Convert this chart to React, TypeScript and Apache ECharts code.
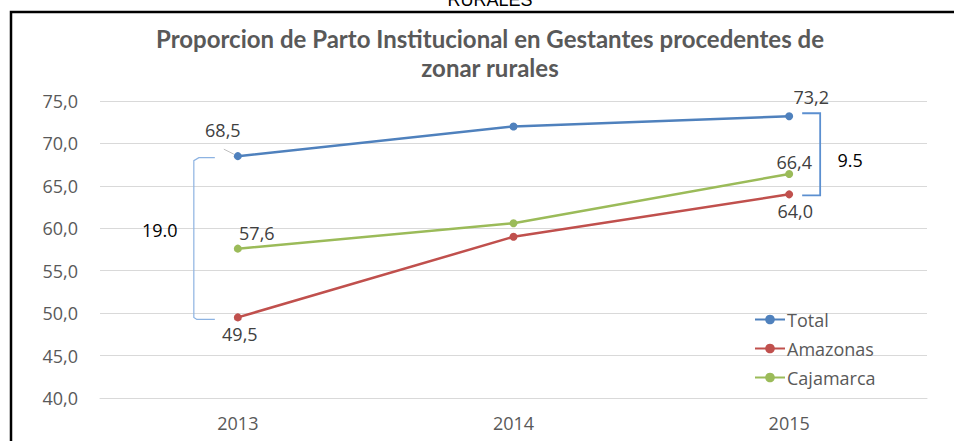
import React, { useEffect, useRef } from "react";
import * as echarts from "echarts";

const categories = ["2013", "2014", "2015"];
const seriesNames = ["Total", "Amazonas", "Cajamarca"];
const totalValues = [68.5, 72.0, 73.2];
const amazonasValues = [49.5, 59.0, 64.0];
const cajamarcaValues = [57.6, 60.6, 66.4];
const labelledIndices = [0, 2];
const yMin = 40;
const yMax = 75;
const yInterval = 5;
const gapLabels = ["19.0", "9.5"];
const titleLines = ["Proporcion de Parto Institucional en Gestantes procedentes de", "zonar rurales"];
const topCutText = "RURALES";

const colors = ["#4f81bd", "#c0504d", "#9bbb59"];
const numFont = "Open Sans";

// label placement per series [index0, index2]
const labelPlacement: any[] = [
  [{ position: "top", offset: [-15, -8] }, null, { position: "top", offset: [22, -1] }],
  [{ position: "bottom", offset: [2, -1] }, null, { position: "bottom", offset: [6, -1] }],
  [{ position: "top", offset: [19, 2] }, null, { position: "top", offset: [5, 6] }],
];

const fmt = (v: number) => v.toFixed(1).replace(".", ",");

export default function App() {
  const ref = useRef<HTMLDivElement>(null);
  useEffect(() => {
    if (!ref.current) return;
    const chart = echarts.init(ref.current, null, { renderer: "svg" });
    const allValues = [totalValues, amazonasValues, cajamarcaValues];
    const series = allValues.map((vals, s) => ({
      name: seriesNames[s],
      type: "line",
      data: vals.map((v, i) => {
        const show = labelledIndices.includes(i);
        const p = labelPlacement[s][i] || {};
        return {
          value: v,
          label: {
            show,
            position: p.position || "top",
            offset: p.offset || [0, 0],
            formatter: (d: any) => fmt(d.value),
            color: "#404040",
            fontSize: 18,
            fontFamily: numFont,
          },
        };
      }),
      symbol: "circle",
      symbolSize: 8,
      lineStyle: { width: 2.5, color: colors[s] },
      itemStyle: { color: colors[s] },
      z: 3 - s,
    }));
    chart.setOption({
      animation: false,
      backgroundColor: "#ffffff",
      grid: { left: 100, right: 27, top: 101, bottom: 43, containLabel: false },
      legend: {
        orient: "vertical",
        left: 749,
        top: 304,
        itemWidth: 30,
        itemHeight: 12,
        itemGap: 8,
        data: seriesNames,
        textStyle: { color: "#595959", fontSize: 18, fontFamily: numFont, lineHeight: 21, padding: [0, 0, 0, -3] },
      },
      xAxis: {
        type: "category",
        data: categories,
        boundaryGap: true,
        axisLine: { show: true, lineStyle: { color: "#d9d9d9", width: 1 } },
        axisTick: { show: false },
        axisLabel: { color: "#595959", fontSize: 18, fontFamily: numFont, margin: 16 },
      },
      yAxis: {
        type: "value",
        min: yMin,
        max: yMax,
        interval: yInterval,
        axisLine: { show: false },
        axisTick: { show: false },
        splitLine: { lineStyle: { color: "#d9d9d9", width: 1 } },
        axisLabel: {
          color: "#595959",
          fontSize: 18,
          fontFamily: numFont,
          margin: 22,
          formatter: (v: number) => fmt(v),
        },
      },
      series,
    });

    const px = (s: number, i: number, v: number) =>
      chart.convertToPixel({ seriesIndex: s }, [i, v]) as number[];

    const tTop = px(0, 0, totalValues[0]);
    const aBot = px(1, 0, amazonasValues[0]);
    const tTop2 = px(0, 2, totalValues[2]);
    const aBot2 = px(1, 2, amazonasValues[2]);

    const lx = tTop[0] - 44;
    const ly1 = tTop[1] + 1.5;
    const ly2 = aBot[1] + 2;
    const rx = tTop2[0] + 31;
    const ry1 = tTop2[1] - 3;
    const ry2 = aBot2[1] + 1;

    chart.setOption({
      graphic: [
        {
          type: "polyline",
          shape: { points: [[11, 460], [11, 12], [970, 12]] },
          style: { stroke: "#000", lineWidth: 2.5, fill: null },
          silent: true,
        },
        {
          type: "text",
          style: {
            text: topCutText,
            x: 490,
            y: 9,
            align: "center",
            verticalAlign: "bottom",
            font: "18px 'Liberation Sans'",
            fill: "#000",
          },
        },
        {
          type: "text",
          style: {
            text: titleLines[0],
            x: 490,
            y: 38,
            align: "center",
            verticalAlign: "middle",
            font: "bold 24px Lato",
            fill: "#595959",
          },
        },
        {
          type: "text",
          style: {
            text: titleLines[1],
            x: 490,
            y: 67,
            align: "center",
            verticalAlign: "middle",
            font: "bold 24px Lato",
            fill: "#595959",
          },
        },
        {
          type: "polyline",
          shape: {
            points: [
              [lx + 21, ly1],
              [lx + 5, ly1],
              [lx, ly1 + 3],
              [lx, ly2 - 2],
              [lx + 3, ly2],
              [lx + 21, ly2],
            ],
          },
          style: { stroke: "#8db3e2", lineWidth: 1.2, fill: null },
        },
        {
          type: "line",
          shape: { x1: tTop[0] - 14, y1: tTop[1] - 7, x2: tTop[0] - 4, y2: tTop[1] - 2 },
          style: { stroke: "#bfbfbf", lineWidth: 1 },
        },
        {
          type: "polyline",
          shape: {
            points: [
              [rx - 18, ry1],
              [rx, ry1],
              [rx, ry2],
              [rx - 18, ry2],
            ],
          },
          style: { stroke: "#5b8fd0", lineWidth: 1.8, fill: null },
        },
        {
          type: "text",
          style: {
            text: gapLabels[0],
            x: lx - 34,
            y: (ly1 + ly2) / 2 - 9,
            align: "center",
            verticalAlign: "middle",
            font: `18px '${numFont}'`,
            fill: "#000",
          },
        },
        {
          type: "text",
          style: {
            text: gapLabels[1],
            x: rx + 30,
            y: (ry1 + ry2) / 2 + 6,
            align: "center",
            verticalAlign: "middle",
            font: `18px '${numFont}'`,
            fill: "#000",
          },
        },
      ],
    });

    return () => chart.dispose();
  }, []);
  return (
    <div
      ref={ref}
      style={{ position: "absolute", left: 0, top: 0, width: 954, height: 441 }}
    />
  );
}
